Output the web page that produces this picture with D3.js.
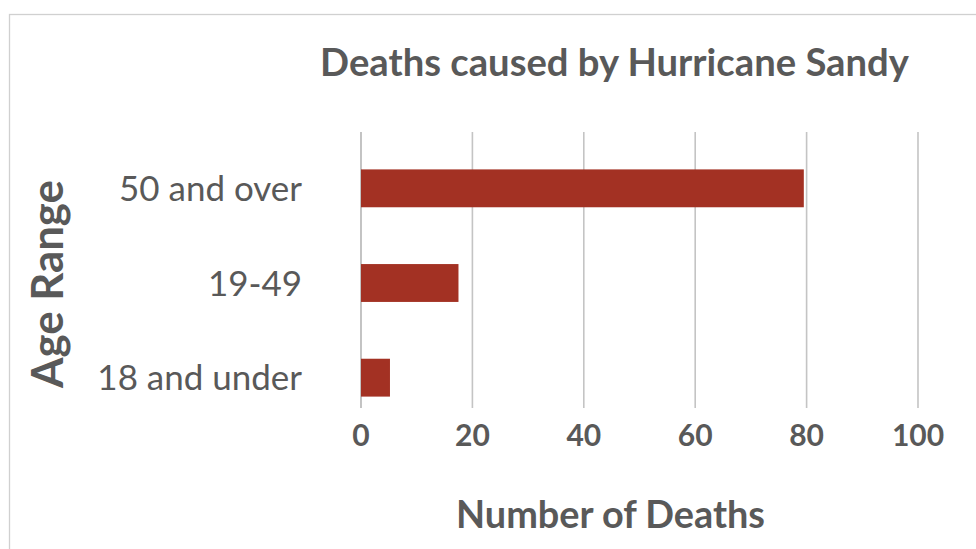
<!DOCTYPE html>
<html>
<head>
<meta charset="utf-8">
<script src="https://cdn.jsdelivr.net/npm/d3@7"></script>
<style>
  html, body { margin: 0; padding: 0; background: #fff; }
  svg { display: block; }
  text { font-family: Lato, "Noto Sans", sans-serif; fill: #595959; }
</style>
</head>
<body>
<svg id="chart" width="976" height="549"></svg>
<script>
// ---- data ----
const categories = ["50 and over", "19-49", "18 and under"];
const deaths = [79.5, 17.5, 5.2];
const xTicks = [0, 20, 40, 60, 80, 100];
const titleText = "Deaths caused by Hurricane Sandy";
const xTitle = "Number of Deaths";
const yTitle = "Age Range";

// ---- layout ----
const W = 976, H = 549;
const svg = d3.select("#chart");

// frame
svg.append("rect")
  .attr("x", 9.5).attr("y", 14.5)
  .attr("width", W + 20).attr("height", H + 20)
  .attr("fill", "#fff").attr("stroke", "#d0d0d0").attr("stroke-width", 1.3);

const x = d3.scaleLinear().domain([0, 100]).range([361, 918]);
const y = d3.scaleBand().domain(categories).range([141, 425])
  .paddingInner(0.6).paddingOuter(0.3);

const gridTop = 132, gridBottom = 408;

// helper: fit text to a target width
function fit(sel, target) {
  const w = sel.node().getComputedTextLength();
  const fs = parseFloat(sel.attr("font-size"));
  sel.attr("font-size", (fs * target / w).toFixed(2));
  return sel;
}

// gridlines
svg.append("g").selectAll("line")
  .data(xTicks)
  .join("line")
  .attr("x1", d => x(d)).attr("x2", d => x(d))
  .attr("y1", gridTop).attr("y2", gridBottom)
  .attr("stroke", d => d === 0 ? "#b5b5b5" : "#c4c4c4")
  .attr("stroke-width", 1.6);

// bars
svg.append("g").selectAll("rect")
  .data(categories)
  .join("rect")
  .attr("x", x(0))
  .attr("y", d => y(d))
  .attr("width", (d, i) => x(deaths[i]) - x(0))
  .attr("height", y.bandwidth())
  .attr("fill", "#a33123");

// y category labels
const yLab = svg.append("g").selectAll("text")
  .data(categories)
  .join("text")
  .attr("x", 302)
  .attr("y", d => y(d) + y.bandwidth() / 2)
  .attr("dy", "0.36em")
  .attr("text-anchor", "end")
  .attr("font-size", 30)
  .text(d => d);
{
  const first = yLab.filter((d, i) => i === 0);
  const w = first.node().getComputedTextLength();
  yLab.attr("font-size", (30 * 183 / w).toFixed(2));
}

// x tick labels
const xLab = svg.append("g").selectAll("text")
  .data(xTicks)
  .join("text")
  .attr("x", d => x(d))
  .attr("y", 446)
  .attr("text-anchor", "middle")
  .attr("font-weight", 700)
  .attr("font-size", 30)
  .text(d => d);

// title
fit(svg.append("text")
  .attr("x", 614.5).attr("y", 76)
  .attr("text-anchor", "middle")
  .attr("font-weight", 700)
  .attr("font-size", 38)
  .text(titleText), 589);

// x axis title
fit(svg.append("text")
  .attr("x", 610.5).attr("y", 528)
  .attr("text-anchor", "middle")
  .attr("font-weight", 700)
  .attr("font-size", 36)
  .text(xTitle), 309);

// y axis title
fit(svg.append("text")
  .attr("transform", "translate(63,284) rotate(-90)")
  .attr("text-anchor", "middle")
  .attr("font-weight", 700)
  .attr("font-size", 38)
  .text(yTitle), 208);
</script>
</body>
</html>
